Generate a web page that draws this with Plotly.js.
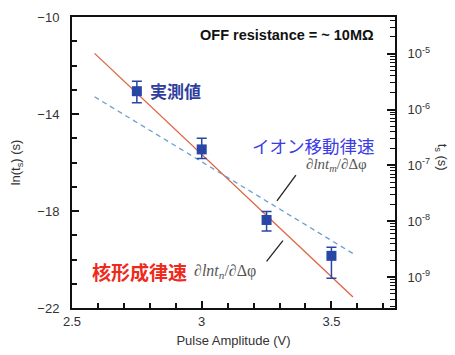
<!DOCTYPE html>
<html><head><meta charset="utf-8">
<script src="https://cdn.plot.ly/plotly-3.0.1.min.js"></script>
<style>html,body{margin:0;padding:0;background:#fff}#c{width:455px;height:355px}</style>
</head><body><div id="c"></div>
<script>
// Measured data (ln(t_s) vs pulse amplitude)
const pulseV = [2.75, 3.0, 3.25, 3.5];
const lnTs = [-13.06, -15.46, -18.37, -19.85];
const errUp = [0.41, 0.46, 0.35, 0.36];
const errDown = [0.48, 0.37, 0.45, 0.92];
// Nucleation-limited fit (red)
const nucX = [2.587, 3.583];
const nucY = [-11.5, -21.55];
// Ion-migration-limited line (blue dashed)
const ionX = [2.587, 3.587];
const ionY = [-13.29, -19.78];
// Right-axis tick labels
const y2Ticks = [1e-5, 1e-6, 1e-7, 1e-8, 1e-9];
const y2TickText = ['10<sup>-5</sup>', '10<sup>-6</sup>', '10<sup>-7</sup>', '10<sup>-8</sup>', '10<sup>-9</sup>'];
const y2Decades = [-10, -9, -8, -7, -6, -5];
const y2Mantissas = [2, 3, 4, 5, 6, 7, 8, 9];

const y2Range = [-22 / Math.LN10, -10 / Math.LN10];
const y2Minor = [];
y2Decades.forEach(d => y2Mantissas.forEach(m => {
  const v = m * Math.pow(10, d);
  const l = Math.log10(v);
  if (l > y2Range[0] && l < y2Range[1]) y2Minor.push(v);
}));

const font = 'Liberation Sans, Arial, sans-serif';
const cjk = 'Noto Sans CJK JP, sans-serif';
const serif = 'Liberation Serif, DejaVu Serif, serif';

const traces = [
  {x: nucX, y: nucY, mode: 'lines', line: {color: '#e0613f', width: 1.3}, hoverinfo: 'skip'},
  {x: ionX, y: ionY, mode: 'lines', line: {color: '#6a9fd0', width: 1.3, dash: '5px,4px'}, hoverinfo: 'skip'},
  {x: pulseV, y: lnTs, mode: 'markers', type: 'scatter',
   marker: {symbol: 'square', size: 10, color: '#2846a6'},
   error_y: {type: 'data', symmetric: false, array: errUp, arrayminus: errDown, color: '#2846a6', thickness: 1.5, width: 5}},
  {x: [pulseV[0]], y: [Math.exp(lnTs[0])], yaxis: 'y2', mode: 'markers', marker: {opacity: 0}, hoverinfo: 'skip'},
  {x: [pulseV[0]], y: [Math.exp(lnTs[0])], yaxis: 'y3', mode: 'markers', marker: {opacity: 0}, hoverinfo: 'skip'}
];

const layout = {
  width: 455, height: 355,
  margin: {l: 72, r: 60, t: 17, b: 47},
  paper_bgcolor: '#fff', plot_bgcolor: '#fff',
  showlegend: false,
  font: {family: font, size: 13, color: '#333'},
  xaxis: {
    range: [2.5, 3.745], tickmode: 'linear', tick0: 2.5, dtick: 0.5,
    ticks: 'inside', ticklen: 7, tickwidth: 2, tickcolor: '#111',
    showline: true, linewidth: 2, linecolor: '#111', mirror: true,
    showgrid: false, zeroline: false,
    minor: {tickmode: 'linear', tick0: 2.5, dtick: 0.1, ticks: 'inside', ticklen: 5, tickwidth: 2, tickcolor: '#111', showgrid: false},
    tickfont: {size: 13, color: '#333'},
    title: {text: 'Pulse Amplitude (V)', font: {size: 13, color: '#333'}, standoff: 8}
  },
  yaxis: {
    range: [-22, -10], tickmode: 'linear', tick0: -22, dtick: 4,
    ticks: 'inside', ticklen: 7, tickwidth: 2, tickcolor: '#111',
    showline: true, linewidth: 2, linecolor: '#111',
    showgrid: false, zeroline: false, ticklabelstandoff: 8,
    minor: {tickmode: 'linear', tick0: -22, dtick: 1, ticks: 'inside', ticklen: 5, tickwidth: 2, tickcolor: '#111', showgrid: false},
    tickfont: {size: 13, color: '#333'},
    title: {text: 'ln(t<sub>s</sub>) (s)', font: {size: 13, color: '#333'}, standoff: 14}
  },
  yaxis2: {
    type: 'log', overlaying: 'y', side: 'right', range: y2Range,
    tickmode: 'array', tickvals: y2Ticks, ticktext: y2TickText,
    ticks: 'inside', ticklen: 8, tickwidth: 2, tickcolor: '#111',
    showline: true, linewidth: 2, linecolor: '#111',
    showgrid: false, zeroline: false, ticklabelstandoff: 8,
    tickfont: {size: 13, color: '#333'}
  },
  yaxis3: {
    type: 'log', overlaying: 'y', side: 'right', range: y2Range,
    tickmode: 'array', tickvals: y2Minor, showticklabels: false,
    ticks: 'inside', ticklen: 5, tickwidth: 1, tickcolor: '#111',
    showline: false, showgrid: false, zeroline: false
  },
  annotations: [
    {xref: 'x', yref: 'y', x: 3.328, y: -10.75, text: '<b>OFF resistance = ~ 10MΩ</b>', showarrow: false,
     font: {family: font, size: 14.5, color: '#111'}},
    {xref: 'x', yref: 'y', x: 2.793, y: -13.05, text: '<b>実測値</b>', showarrow: false, xanchor: 'left',
     font: {family: cjk, size: 17, color: '#2f3d9e'}},
    {xref: 'x', yref: 'y', x: 3.186, y: -15.28, text: 'イオン移動律速', showarrow: false, xanchor: 'left',
     font: {family: cjk, size: 17.5, color: '#3c3ce6'}},
    {xref: 'x', yref: 'y', x: 3.518, y: -16.1, text: '∂<i>lnt</i><sub><i>m</i></sub>/∂Δφ', showarrow: false,
     font: {family: serif, size: 15, color: '#555'}},
    {xref: 'x', yref: 'y', x: 2.57, y: -20.5, text: '<b>核形成律速</b>', showarrow: false, xanchor: 'left',
     font: {family: cjk, size: 19, color: '#ee2a1d'}},
    {xref: 'x', yref: 'y', x: 2.962, y: -20.5, text: '∂<i>lnt</i><sub><i>n</i></sub>/∂Δφ', showarrow: false, xanchor: 'left',
     font: {family: serif, size: 16, color: '#555'}},
    {xref: 'paper', yref: 'paper', x: 1.175, y: 0.52, text: 't<sub>s</sub> (s)', showarrow: false, textangle: 90,
     font: {family: font, size: 13, color: '#333'}}
  ],
  shapes: [
    {type: 'line', xref: 'x', yref: 'y', x0: 3.363, y0: -16.52, x1: 3.29, y1: -17.58, line: {color: '#222', width: 1.3}},
    {type: 'line', xref: 'x', yref: 'y', x0: 3.313, y0: -19.22, x1: 3.25, y1: -20.08, line: {color: '#222', width: 1.3}}
  ]
};

Plotly.newPlot('c', traces, layout, {displayModeBar: false, staticPlot: true});
</script></body></html>
